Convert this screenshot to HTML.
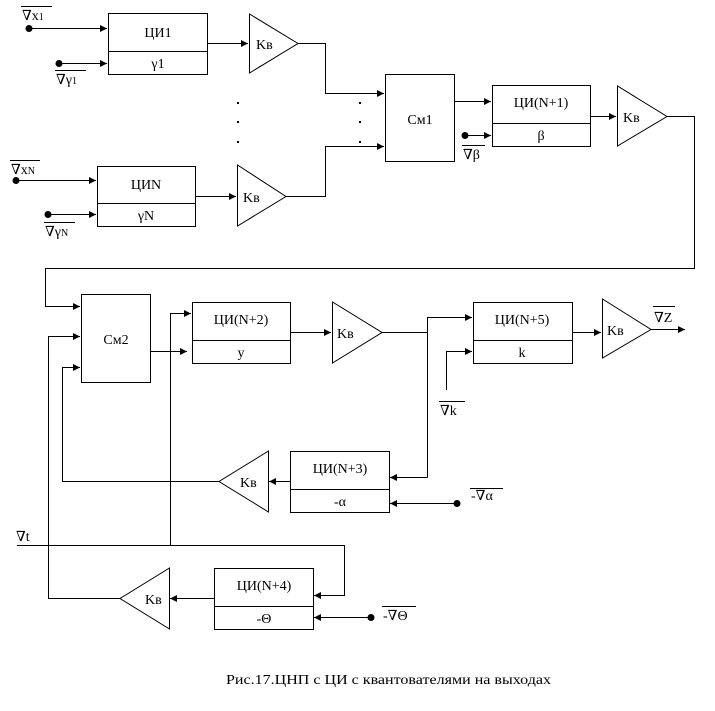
<!DOCTYPE html>
<html><head><meta charset="utf-8"><style>
html,body{margin:0;padding:0;background:#fff;}
svg{display:block;}
text{font-family:"Liberation Serif","DejaVu Serif",serif;font-size:14px;fill:#000;}
</style></head><body>
<svg width="715" height="711" viewBox="0 0 715 711" xmlns="http://www.w3.org/2000/svg">
<defs>
<marker id="a" markerWidth="8" markerHeight="8" refX="7" refY="4" orient="auto" markerUnits="userSpaceOnUse">
<path d="M0,0.5 L7,4 L0,7.5 Z" fill="#000"/></marker>
</defs>
<g fill="none" stroke="#000" stroke-width="1">
<rect x="108.5" y="13.5" width="99" height="61"/><line x1="108" y1="51.5" x2="207" y2="51.5"/>
<line x1="29" y1="28.5" x2="107" y2="28.5" marker-end="url(#a)"/>
<line x1="59" y1="63.5" x2="107" y2="63.5" marker-end="url(#a)"/>
<line x1="207" y1="43.5" x2="248" y2="43.5" marker-end="url(#a)"/>
<path d="M249.5,14 L249.5,73 L298,43.5 Z"/>
<path d="M298,43.5 H325.5 V93.5 H384" marker-end="url(#a)"/>
<rect x="97.5" y="166.5" width="98" height="60"/><line x1="97" y1="203.5" x2="195" y2="203.5"/>
<line x1="16" y1="180.5" x2="96" y2="180.5" marker-end="url(#a)"/>
<line x1="48" y1="214.5" x2="96" y2="214.5" marker-end="url(#a)"/>
<line x1="195" y1="196.5" x2="236" y2="196.5" marker-end="url(#a)"/>
<path d="M237.5,165 L237.5,226 L286,196.5 Z"/>
<path d="M286,196.5 H325.5 V146.5 H384" marker-end="url(#a)"/>
<rect x="385.5" y="74.5" width="69" height="87"/>
<line x1="454" y1="101.5" x2="491" y2="101.5" marker-end="url(#a)"/>
<rect x="492.5" y="85.5" width="98" height="61"/><line x1="492" y1="123.5" x2="590" y2="123.5"/>
<line x1="465" y1="135.5" x2="491" y2="135.5" marker-end="url(#a)"/>
<line x1="590" y1="116.5" x2="616" y2="116.5" marker-end="url(#a)"/>
<path d="M617.5,86 L617.5,146 L667,116.5 Z"/>
<path d="M667,116.5 H694.5 V268.5 H45.5 V306.5 H80" marker-end="url(#a)"/>
<rect x="81.5" y="294.5" width="69" height="88"/>
<line x1="150" y1="351.5" x2="187" y2="351.5" marker-end="url(#a)"/>
<rect x="192.5" y="302.5" width="98" height="61"/><line x1="192" y1="340.5" x2="290" y2="340.5"/>
<path d="M170.5,545 V313.5 H191" marker-end="url(#a)"/>
<line x1="290" y1="332.5" x2="331" y2="332.5" marker-end="url(#a)"/>
<path d="M332.5,302 L332.5,363 L382,332.5 Z"/>
<line x1="382" y1="332.5" x2="427.5" y2="332.5"/>
<path d="M427.5,477.5 V317.5 H472" marker-end="url(#a)"/>
<rect x="473.5" y="302.5" width="99" height="61"/><line x1="473" y1="340.5" x2="572" y2="340.5"/>
<path d="M446.5,390 V351.5 H472" marker-end="url(#a)"/>
<line x1="572" y1="332.5" x2="601" y2="332.5" marker-end="url(#a)"/>
<path d="M602.5,299 L602.5,358 L651,329.5 Z"/>
<line x1="651" y1="329.5" x2="685" y2="329.5" marker-end="url(#a)"/>
<path d="M427.5,477.5 H390" marker-end="url(#a)"/>
<rect x="290.5" y="451.5" width="99" height="61"/><line x1="290" y1="489.5" x2="389" y2="489.5"/>
<line x1="457" y1="503.5" x2="390" y2="503.5" marker-end="url(#a)"/>
<line x1="290" y1="481.5" x2="269" y2="481.5" marker-end="url(#a)"/>
<path d="M268.5,451 L268.5,512 L219,481.5 Z"/>
<path d="M219,481.5 H62.5 V367.5 H80" marker-end="url(#a)"/>
<path d="M120,598.5 H48.5 V336.5 H80" marker-end="url(#a)"/>
<path d="M17,545.5 H344.5 V595.5 H314" marker-end="url(#a)"/>
<rect x="214.5" y="568.5" width="99" height="61"/><line x1="214" y1="606.5" x2="313" y2="606.5"/>
<line x1="371" y1="617.5" x2="314" y2="617.5" marker-end="url(#a)"/>
<line x1="214" y1="598.5" x2="170" y2="598.5" marker-end="url(#a)"/>
<path d="M169.5,568 L169.5,629 L120,598.5 Z"/>
<line x1="21" y1="6.5" x2="52" y2="6.5"/>
<line x1="55" y1="70.5" x2="86" y2="70.5"/>
<line x1="10" y1="160.5" x2="40" y2="160.5"/>
<line x1="44" y1="222.5" x2="75" y2="222.5"/>
<line x1="462" y1="145.5" x2="485" y2="145.5"/>
<line x1="439" y1="401.5" x2="465" y2="401.5"/>
<line x1="653" y1="306.5" x2="675" y2="306.5"/>
<line x1="470" y1="488.5" x2="503" y2="488.5"/>
<line x1="382" y1="606.5" x2="416" y2="606.5"/>
</g>
<g fill="#000">
<circle cx="29" cy="28.5" r="3.5"/><circle cx="59" cy="63.5" r="3.5"/>
<circle cx="16" cy="180.5" r="3.5"/><circle cx="48" cy="214.5" r="3.5"/>
<circle cx="465" cy="135.5" r="3.5"/><circle cx="457" cy="503.5" r="3.5"/>
<circle cx="371" cy="617.5" r="3.5"/>
<rect x="237" y="102" width="2" height="2"/><rect x="237" y="121" width="2" height="2"/><rect x="237" y="141" width="2" height="2"/>
<rect x="359" y="102" width="2" height="2"/><rect x="359" y="121" width="2" height="2"/><rect x="359" y="141" width="2" height="2"/>
</g>
<g text-anchor="middle">
<text x="158" y="37">ЦИ1</text><text x="158" y="68">γ1</text>
<text x="146" y="189">ЦИN</text><text x="146" y="220">γN</text>
<text x="420" y="124">См1</text>
<text x="541" y="107">ЦИ(N+1)</text><text x="541" y="140">β</text>
<text x="116" y="344">См2</text>
<text x="241" y="324">ЦИ(N+2)</text><text x="241" y="357">y</text>
<text x="522" y="324">ЦИ(N+5)</text><text x="522" y="357">k</text>
<text x="340" y="473">ЦИ(N+3)</text><text x="340" y="506">-α</text>
<text x="264" y="590">ЦИ(N+4)</text><text x="264" y="623">-Θ</text>
</g>
<text x="256" y="49">Kв</text><text x="243" y="202">Kв</text>
<text x="623" y="122">Kв</text><text x="337" y="338">Kв</text>
<text x="607" y="335">Kв</text><text x="240" y="487">Kв</text>
<text x="145" y="604">Kв</text>
<text x="22" y="20">∇x<tspan font-size="10">1</tspan></text>
<text x="56" y="84">∇γ<tspan font-size="10">1</tspan></text>
<text x="11" y="174">∇x<tspan font-size="10">N</tspan></text>
<text x="45" y="236">∇γ<tspan font-size="10">N</tspan></text>
<text x="463" y="159">∇β</text>
<text x="440" y="415">∇k</text>
<text x="654" y="322">∇Z</text>
<text x="471" y="500">-∇α</text>
<text x="383" y="620">-∇Θ</text>
<text x="16" y="541">∇t</text>
<text x="226" y="684" font-size="14.5" textLength="325" lengthAdjust="spacingAndGlyphs">Рис.17.ЦНП с ЦИ с квантователями на выходах</text>
</svg>
</body></html>
